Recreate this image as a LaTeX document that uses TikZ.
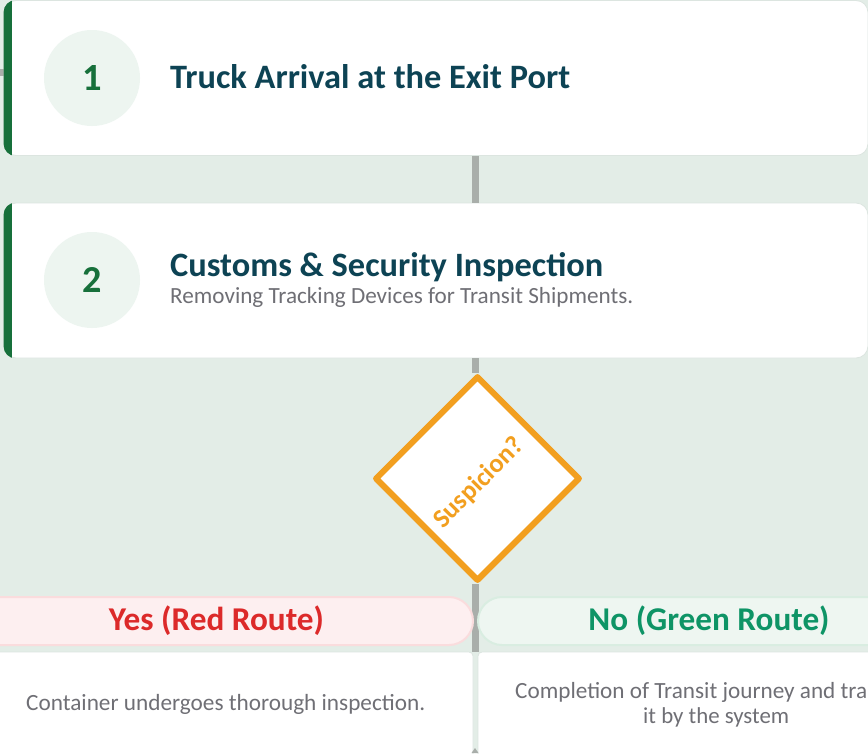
\documentclass[tikz,border=0pt]{standalone}
\usepackage{fontspec}
\setmainfont{Carlito}
\usepackage{graphicx}
\usetikzlibrary{shapes.geometric}
\definecolor{bg}{HTML}{E3EDE7}
\definecolor{cardline}{HTML}{DCE5E0}
\definecolor{bargreen}{HTML}{17703B}
\definecolor{circfill}{HTML}{EDF5F0}
\definecolor{titlecol}{HTML}{0D4354}
\definecolor{subcol}{HTML}{6F6F75}
\definecolor{orangec}{HTML}{F29F1F}
\definecolor{redc}{HTML}{DC2A2A}
\definecolor{greenc}{HTML}{0E9466}
\definecolor{redfill}{HTML}{FDEFF0}
\definecolor{redline}{HTML}{FADCDD}
\definecolor{greenfill}{HTML}{EEF6F1}
\definecolor{greenline}{HTML}{D9EDE1}
\definecolor{linegray}{HTML}{A9AEAA}
\begin{document}
\begin{tikzpicture}[x=1pt,y=-1pt,
  stepcard/.style={rectangle, rounded corners=12, fill=white, draw=cardline, line width=0.8,
     minimum width=864, minimum height=155, inner sep=0},
  numcirc/.style={circle, fill=circfill, minimum size=96, inner sep=0, text=bargreen},
  titletext/.style={anchor=base west, inner sep=0, text=titlecol},
  subtext/.style={anchor=base west, inner sep=0, text=subcol},
  conn/.style={draw=linegray, line width=7},
  decision/.style={diamond, aspect=1, minimum width=205, minimum height=205, inner sep=0,
     fill=white, draw=orangec, line width=6, line join=round},
  pill/.style={rectangle, rounded corners=24, minimum height=48, inner sep=0, line width=2},
  resultcard/.style={rectangle, rounded corners=4, fill=white, draw=cardline, line width=0.8, inner sep=0}
]
\useasboundingbox (0,0) rectangle (868,753);
\clip (0,0) rectangle (868,753);
\fill[bg] (0,0) rectangle (868,753);

% left stub
\fill[linegray] (-2,69) rectangle (5,76);

% coordinates for the spine
\coordinate (spine) at (475,0);

% cards
\node[stepcard] (card1) at (436,78) {};
\node[stepcard] (card2) at (436,280.5) {};
\foreach \c in {card1,card2}{
  \begin{scope}
    \clip[rounded corners=12] (\c.north west) rectangle (\c.south east);
    \fill[bargreen] ([xshift=-2pt]\c.north west) rectangle ([xshift=8pt]\c.south west);
  \end{scope}
}

% decision
\node[decision] (dia) at (477.5,478.5) {};

% connectors
\draw[conn] (card1.south -| spine) -- (card2.north -| spine);
\draw[conn] (card2.south -| spine) -- (dia.north -| spine);
\coordinate (spineend) at (475,652);
\draw[conn] (dia.south -| spine) -- (spineend);
\node[decision] at (dia) {};

% step contents
\node[numcirc] (c1) at (92,78) {\resizebox{!}{25pt}{\bfseries 1}};
\node[titletext] (t1) at (170,88) {\resizebox{400pt}{24pt}{\bfseries Truck Arrival at the Exit Port}};
\node[numcirc] (c2) at (92,280) {\resizebox{!}{25pt}{\bfseries 2}};
\node[titletext] (t2) at (170,276) {\resizebox{433pt}{24pt}{\bfseries Customs \& Security Inspection}};
\node[subtext] (s2) at (170,303) {\resizebox{463pt}{!}{Removing Tracking Devices for Transit Shipments.}};

% decision label
\node[inner sep=0, rotate=45, text=orangec] (dlab) at (479,483) {\resizebox{116pt}{!}{\bfseries Suspicion?}};

% pills
\node[pill, fill=redfill, draw=redline, minimum width=513, text=redc] (yes) at (216.5,621) {\resizebox{215pt}{!}{\bfseries Yes (Red Route)}};
\node[pill, fill=greenfill, draw=greenline, minimum width=462, text=greenc] (no) at (709,621) {\resizebox{241pt}{!}{\bfseries No (Green Route)}};

% result cards
\node[resultcard, minimum width=485, minimum height=120] (rc1) at (230.5,712) {};
\node[resultcard, minimum width=420, minimum height=120] (rc2) at (688,712) {};
\node[subtext] (r1) at (26,710) {\resizebox{399pt}{!}{Container undergoes thorough inspection.}};
\node[subtext] (r2a) at (515,698) {\resizebox{352pt}{!}{Completion of Transit journey and tra}};
\node[subtext] (r2b) at (643,723) {\resizebox{146pt}{!}{it by the system}};

% bottom tip of next connector
\fill[linegray] (471.5,753) -- (475,748) -- (478.5,753) -- cycle;
\end{tikzpicture}
\end{document}
